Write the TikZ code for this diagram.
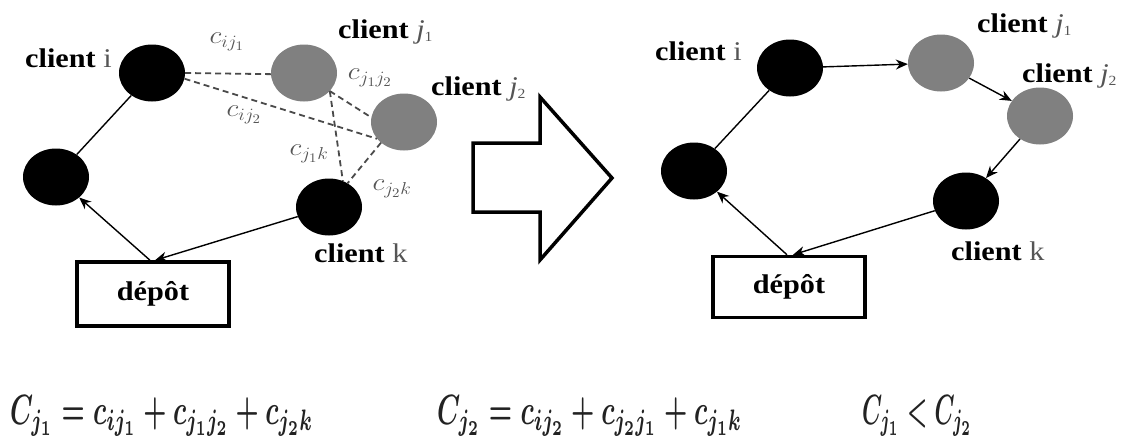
\documentclass[tikz,border=0pt]{standalone}
\usepackage{amsmath}
\usepackage{fontspec}
\setmainfont{Liberation Serif}
\usetikzlibrary{shapes.geometric,arrows.meta}
\definecolor{nodegray}{HTML}{808080}
\definecolor{labgray}{HTML}{555555}
\definecolor{dashgray}{HTML}{4A4A4A}
\definecolor{eqcol}{HTML}{222222}
\tikzset{
  blk/.style={ellipse,fill=black,minimum width=66pt,minimum height=57pt,inner sep=0pt},
  gry/.style={ellipse,fill=nodegray,minimum width=66pt,minimum height=57pt,inner sep=0pt},
  clab/.style={anchor=base west,inner sep=0pt,font=\fontsize{27}{29}\selectfont\bfseries},
  depot/.style={draw,line width=3.5pt,inner sep=0pt,font=\fontsize{27}{29}\selectfont\bfseries},
  costlab/.style={inner sep=0pt,text=labgray,font=\fontsize{22}{22}\selectfont},
  dsh/.style={draw=dashgray,dash pattern=on 6pt off 4pt,line width=1.8pt},
  con/.style={line width=1.4pt},
  arr/.style={line width=1.4pt,-{Stealth[length=12pt,width=10pt]}},
  eqn/.style={anchor=west,inner sep=0pt,text=eqcol},
}
\newcommand{\gi}[1]{{\color{labgray}\mdseries\upshape #1}}
\newcommand{\gj}[1]{{\color{labgray}\mdseries\itshape j\raisebox{-0.25ex}{\fontsize{14}{14}\selectfont\upshape #1}}}
\newcommand{\wide}[1]{\scalebox{1.12}[1]{#1}}
\newcommand{\cl}[1]{\scalebox{1.35}[1.2]{$#1$}}
\begin{document}
\begin{tikzpicture}[x=1pt,y=-1pt]
\useasboundingbox (0,0) rectangle (1126,442);
% ---------- left diagram ----------
\node[blk] (Li) at (152,73) {};
\node[blk] (La) at (56,177) {};
\node[gry] (Lj1) at (304,73) {};
\node[gry] (Lj2) at (404,122) {};
\node[blk] (Lk) at (329,207) {};
\node[depot,minimum width=152pt,minimum height=64pt] (Ld) at (153,294) {\wide{dépôt}};

\node[clab] (tLi) at (25,67) {\wide{client \gi{i}}};
\node[clab] (tLj1) at (338,38) {\wide{client \gj{1}}};
\node[clab] (tLj2) at (431,95) {\wide{client \gj{2}}};
\node[clab] (tLk) at (314,262) {\wide{client \gi{k}}};

\draw[con] (Li) -- (La);
\draw[arr] ([xshift=-3pt]Ld.north) -- (La);
\draw[arr] (Lk) -- ([xshift=2pt]Ld.north);

\draw[dsh] (Li.0) -- (Lj1.182);
\draw[dsh] (Li.-10) -- (Lj2.212);
\draw[dsh] (Lj1.-35) -- (Lj2.172);
\draw[dsh] (Lj1.-35) -- (Lk.62);
\draw[dsh] (Lj2.222) -- (Lk.52);

\node[costlab] (c1) at (227,42) {\cl{c_{ij_1}}};
\node[costlab] (c2) at (370,78) {\cl{c_{j_1j_2}}};
\node[costlab] (c3) at (244,115) {\cl{c_{ij_2}}};
\node[costlab] (c4) at (309,154) {\cl{c_{j_1k}}};
\node[costlab] (c5) at (392,189) {\cl{c_{j_2k}}};

% ---------- block arrow ----------
\draw[line width=3.5pt,line join=miter] (473,143) -- (540,143) -- (540,97) -- (612,178) -- (540,260) -- (540,212) -- (473,212) -- cycle;

% ---------- right diagram ----------
\node[blk] (Ri) at (790,68) {};
\node[blk] (Ra) at (694,171) {};
\node[gry] (Rj1) at (941,63) {};
\node[gry] (Rj2) at (1040,116) {};
\node[blk] (Rk) at (966,201) {};
\node[depot,minimum width=152pt,minimum height=61pt] (Rd) at (789,287) {\wide{dépôt}};

\node[clab] (tRi) at (655,60) {\wide{client \gi{i}}};
\node[clab] (tRj1) at (977,32) {\wide{client \gj{1}}};
\node[clab] (tRj2) at (1022,82) {\wide{client \gj{2}}};
\node[clab] (tRk) at (951,260) {\wide{client \gi{k}}};

\draw[con] (Ra) -- (Ri);
\draw[arr] (Ri) -- (Rj1);
\draw[arr] (Rj1) -- (Rj2);
\draw[arr] (Rj2) -- (Rk);
\draw[arr] (Rk) -- ([xshift=4pt]Rd.north);
\draw[arr] ([xshift=-2pt]Rd.north) -- (Ra);

% ---------- equations ----------
\node[eqn] (e1) at (10,416) {\resizebox{303pt}{29pt}{\boldmath$C_{j_1} = c_{ij_1} + c_{j_1j_2} + c_{j_2k}$}};
\node[eqn] (e2) at (437,416) {\resizebox{305pt}{29pt}{\boldmath$C_{j_2} = c_{ij_2} + c_{j_2j_1} + c_{j_1k}$}};
\node[eqn] (e3) at (862,416) {\resizebox{110pt}{29pt}{\boldmath$C_{j_1} < C_{j_2}$}};
\end{tikzpicture}
\end{document}
